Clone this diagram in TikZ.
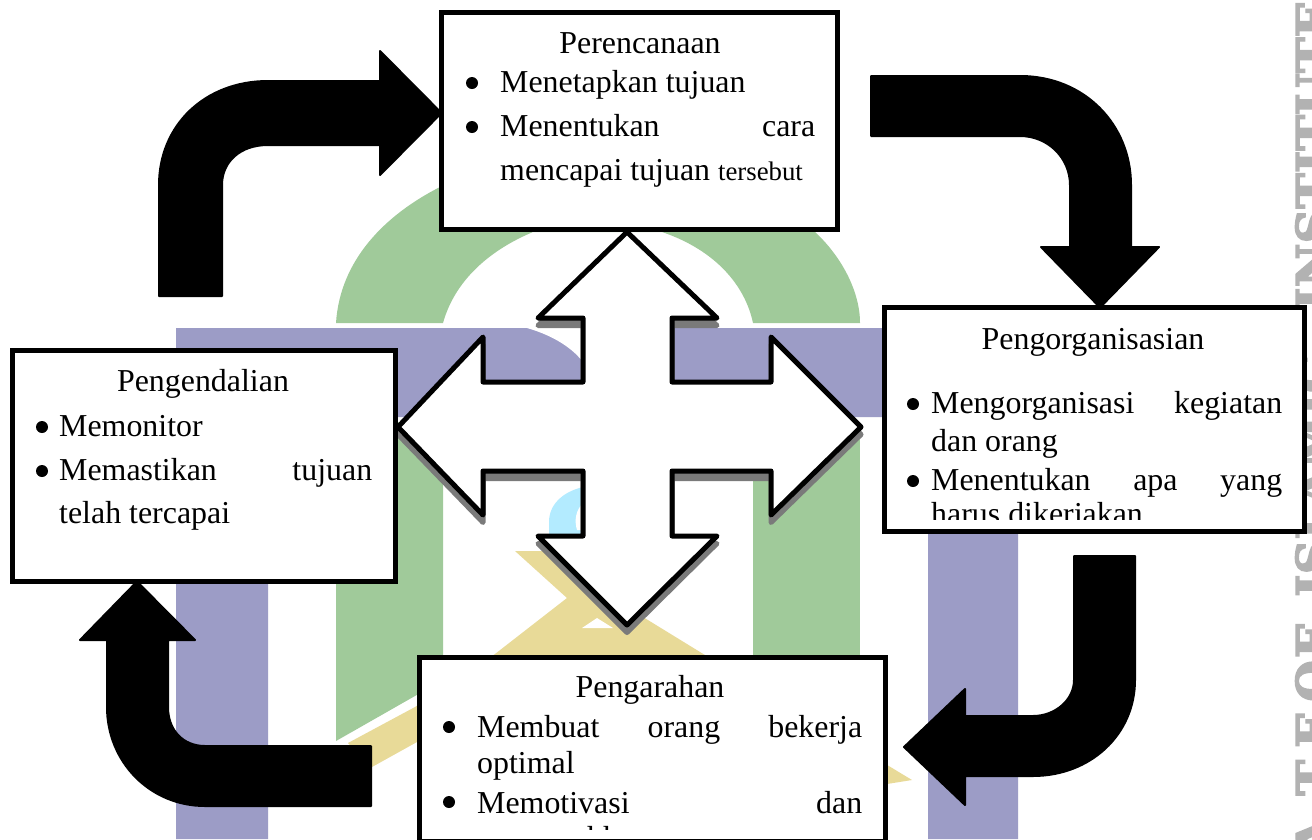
\documentclass[tikz,border=0pt]{standalone}
\usepackage{fontspec}
\setmainfont{Liberation Serif}
\newfontfamily\wmfont[FakeBold=3]{DejaVu Serif Bold}
\definecolor{wmblue}{HTML}{9C9CC6}
\definecolor{wmgreen}{HTML}{A0CA9A}
\definecolor{wmyellow}{HTML}{E8DA98}
\definecolor{wmcyan}{HTML}{B3EBFF}
\definecolor{wmgray}{HTML}{B2B2B2}
\tikzset{
  box/.style={draw=black,fill=white,line width=5pt,outer sep=0pt,inner sep=0pt},
  title/.style={anchor=base,inner sep=0pt,font=\fontsize{31.9}{38}\selectfont},
  line/.style={anchor=base west,inner sep=0pt,align=justify,font=\fontsize{31.9}{38}\selectfont},
  bul/.style={circle,fill=black,inner sep=0pt,outer sep=0pt,minimum size=12pt},
  block/.style={fill=black,draw=black,line width=2pt,line join=round},
  cross/.style={fill=white,draw=black,line width=5pt,line join=round},
  crossshadow/.style={fill=black!52,draw=black!52,line width=5pt,line join=round},
  wmletters/.style={rotate=90,anchor=base west,inner sep=0pt,text=wmgray,font=\wmfont\fontsize{48}{56}\selectfont}
}
\begin{document}
\begin{tikzpicture}[x=1pt,y=-1pt]
\useasboundingbox (0,0) rectangle (1312,839);
\clip (0,0) rectangle (1312,839);
\fill[white] (0,0) rectangle (1312,839);
% watermark
\fill[wmblue] (176,328) -- (1018,328) -- (1018,839) -- (928,839) -- (928,417) -- (268,417) -- (268,839) -- (176,839) -- cycle;
\fill[white] (527,328) .. controls (548,334) and (570,345) .. (583,362) -- (583,328) -- cycle;
\fill[wmgreen] (336,323) .. controls (340,260) and (385,215) .. (440,187) -- (640,150) -- (815,232) .. controls (840,255) and (860,290) .. (860,323) -- (753,323) .. controls (745,285) and (715,250) .. (662,232) -- (533,232) .. controls (490,250) and (455,280) .. (443,323) -- cycle;
\fill[wmgreen] (336,422) -- (443,422) -- (443,680) -- (336,741) -- cycle;
\fill[wmgreen] (753,422) -- (860,422) -- (860,700) -- (753,700) -- cycle;
\fill[wmyellow] (515,551) -- (600,551) -- (600,590) -- (643,617) -- (700,652) -- (912,780) -- (887,784) -- (420,784) -- (417,742) -- (372,767) -- (348,743) -- (415,707) -- (495,654) -- (567,598) -- cycle;
\fill[white] (582,628) -- (597,618) -- (613,628) -- cycle;
\fill[wmcyan] (583,487) .. controls (562,492) and (549,505) .. (549,522) -- (549,536) -- (583,536) -- cycle;
\fill[white] (583,503) .. controls (576,510) and (574,520) .. (577,530) -- (583,530) -- cycle;
\node[wmletters] (wmA) at (1331,855) {A\kern22pt T\kern12pt E};
\node[wmletters] (wmB) at (1331,702) {O\kern2pt F};
\node[wmletters] (wmC) at (1331,597) {ISLAMIC};
\node[wmletters] (wmD) at (1331,310) {INSTITUTE};
% free ends
\coordinate (tipR) at (904,747);
\coordinate (tipCrossR) at (861,427);
\coordinate (tipCrossB) at (627,625);
\coordinate (tipCrossL) at (398,427);
\coordinate (tipCrossT) at (627,232);
% cross arrow: shadow and shape
\draw[crossshadow] (627,239.5) -- (717,325.5) -- (672,325.5) -- (672,389.5) -- (771,389.5) -- (771,344.5) -- (861,434.5) -- (771,522.5) -- (771,478.5) -- (672,478.5) -- (672,543.5) -- (717,543.5) -- (627,632.5) -- (538,543.5) -- (583,543.5) -- (583,478.5) -- (483,478.5) -- (483,522.5) -- (398,434.5) -- (483,344.5) -- (483,389.5) -- (583,389.5) -- (583,325.5) -- (538,325.5) -- cycle;
\draw[cross] (tipCrossT) -- (717,318) -- (672,318) -- (672,382) -- (771,382) -- (771,337) -- (tipCrossR) -- (771,515) -- (771,471) -- (672,471) -- (672,536) -- (717,536) -- (tipCrossB) -- (538,536) -- (583,536) -- (583,471) -- (483,471) -- (483,515) -- (tipCrossL) -- (483,337) -- (483,382) -- (583,382) -- (583,318) -- (538,318) -- cycle;
% boxes
\node[box,minimum width=396pt,minimum height=217pt] (perencanaan) at (639.5,121) {};
\node[box,minimum width=420pt,minimum height=224pt] (pengorganisasian) at (1094.5,419.5) {};
\node[box,minimum width=383pt,minimum height=231pt] (pengendalian) at (204,466) {};
\node[box,minimum width=466pt,minimum height=184pt] (pengarahan) at (652,749) {};
% block arrows
\draw[block] (159,296) -- (159,185) .. controls (159,125) and (205,81) .. (268,81) -- (380,81) -- (380,51) -- (perencanaan.west |- 0,113) -- (380,175) -- (380,145) -- (268,145) .. controls (240,145) and (222,162) .. (222,185) -- (222,296) -- cycle;
\draw[block] (871,76) -- (1020,76) .. controls (1085,76) and (1131,125) .. (1131,185) -- (1131,247) -- (1159,247) -- (pengorganisasian.north -| 1100,0) -- (1041,247) -- (1070,247) -- (1070,185) .. controls (1070,158) and (1048,136) .. (1020,136) -- (871,136) -- cycle;
\draw[block] (1074,556) -- (1135,556) -- (1135,680) .. controls (1135,735) and (1090,776) .. (1033,776) -- (965,776) -- (965,805) -- (tipR) -- (965,689) -- (965,716) -- (1033,716) .. controls (1055,716) and (1074,700) .. (1074,680) -- cycle;
\draw[block] (371,746) -- (205,746) .. controls (183,746) and (168,730) .. (168,707) -- (168,640) -- (195,640) -- (pengendalian.south -| 137,0) -- (80,640) -- (107,640) -- (107,707) .. controls (107,762) and (150,806) .. (205,806) -- (371,806) -- cycle;
% Perencanaan text
\node[title] (t1) at (640,53) {Perencanaan};
\node[bul] (b1a) at (472,83) {};
\node[line,text width=315pt] (l1a) at (500,92) {Menetapkan tujuan};
\node[bul] (b1b) at (472,127) {};
\node[line,text width=315pt] (l1b) at (500,136) {Menentukan\hfill cara};
\node[line,text width=315pt] (l1c) at (500,180) {mencapai tujuan {\fontsize{26.8}{32}\selectfont tersebut}};
% Pengorganisasian text
\node[title] (t2) at (1093,349) {Pengorganisasian};
\node[bul] (b2a) at (913,404) {};
\node[line,text width=351pt] (l2a) at (931,413) {Mengorganisasi\hfill kegiatan};
\node[line,text width=351pt] (l2b) at (931,451) {dan orang};
\node[bul] (b2b) at (913,481) {};
\node[line,text width=351pt] (l2c) at (931,490) {Menentukan\hfill apa\hfill yang};
\begin{scope}
\clip (900,495) rectangle (1300,519);
\node[line,text width=351pt] (l2d) at (931,524) {harus dikerjakan};
\end{scope}
% Pengendalian text
\node[title] (t3) at (203,391) {Pengendalian};
\node[bul] (b3a) at (42,427) {};
\node[line,text width=313pt] (l3a) at (59,436) {Memonitor};
\node[bul] (b3b) at (42,471) {};
\node[line,text width=313pt] (l3b) at (59,480) {Memastikan\hfill tujuan};
\node[line,text width=313pt] (l3c) at (59,523) {telah tercapai};
% Pengarahan text
\node[title] (t4) at (650,697) {Pengarahan};
\node[bul] (b4a) at (449,727) {};
\node[line,text width=385pt] (l4a) at (477,737) {Membuat\hfill orang\hfill bekerja};
\node[line,text width=385pt] (l4b) at (477,773) {optimal};
\node[bul] (b4b) at (449,802) {};
\node[line,text width=385pt] (l4c) at (477,813) {Memotivasi\hfill dan};
\begin{scope}
\clip (430,820) rectangle (870,829);
\node[line,text width=385pt] (l4d) at (477,848) {mengarahkan};
\end{scope}
\end{tikzpicture}
\end{document}
